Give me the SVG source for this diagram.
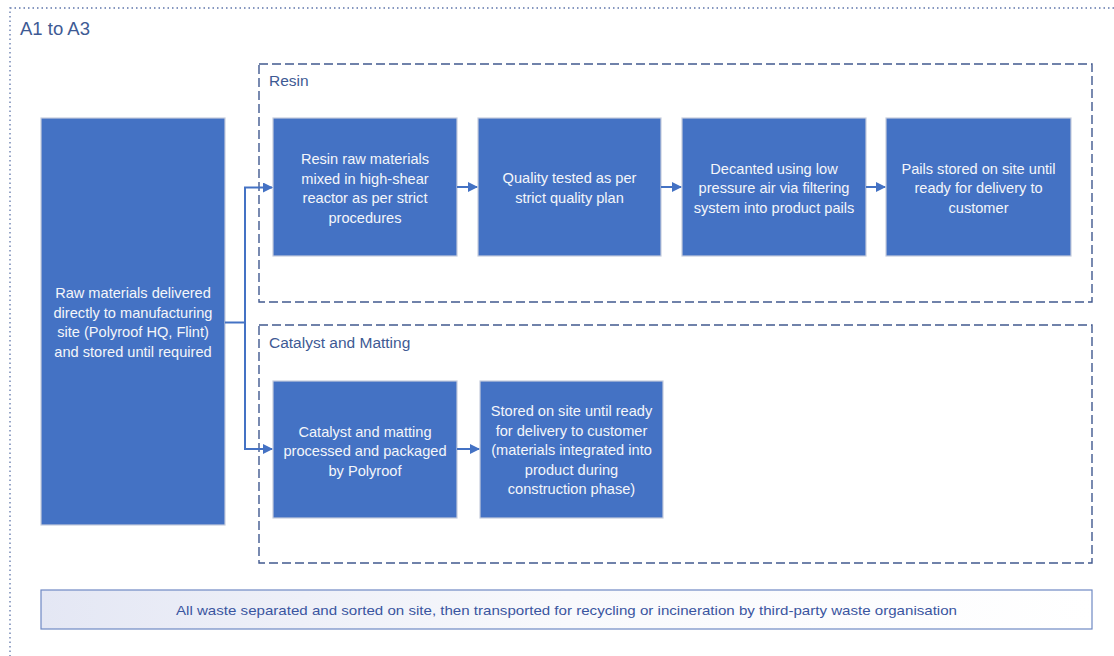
<svg xmlns="http://www.w3.org/2000/svg" width="1114" height="656" viewBox="0 0 1114 656">
<style>
.box{fill:#4472C4;stroke:#C5CCDC;stroke-width:1.2}
.bt{font-family:"Liberation Sans",Arial,sans-serif;font-size:14.6px;fill:#F4F6FA;text-anchor:middle}
.grp{fill:none;stroke:#41598F;stroke-width:1.4;stroke-dasharray:9 4}
.gt{font-family:"Liberation Sans",Arial,sans-serif;font-size:15.5px;fill:#3E5A94}
.con{fill:none;stroke:#4472C4;stroke-width:2}
</style>
<defs>
<marker id="ah" viewBox="0 0 10 10" refX="9" refY="5" markerWidth="10" markerHeight="10" markerUnits="userSpaceOnUse" orient="auto">
<path d="M0,0 L10,5 L0,10 Z" fill="#4472C4"/>
</marker>
<linearGradient id="wg" x1="0" y1="0" x2="1" y2="0">
<stop offset="0" stop-color="#E4E7F4"/>
<stop offset="0.5" stop-color="#F8F9FC"/>
<stop offset="1" stop-color="#FFFFFF"/>
</linearGradient>
</defs>
<rect width="1114" height="656" fill="#FFFFFF"/>
<g id="outer">
<rect x="10" y="8" width="1120" height="660" fill="none" stroke="#5F76AA" stroke-width="1.3" stroke-dasharray="1.5 3"/>
<text x="20" y="35" font-family="Liberation Sans,Arial,sans-serif" font-size="18.5" fill="#3E5A94">A1 to A3</text>
</g>
<g id="resin-group">
<rect class="grp" x="259" y="64" width="833" height="238"/>
<text class="gt" x="269" y="86">Resin</text>
</g>
<g id="catalyst-group">
<rect class="grp" x="259" y="325" width="833" height="238"/>
<text class="gt" x="269" y="348">Catalyst and Matting</text>
</g>
<g id="raw">
<rect class="box" x="41" y="118" width="184" height="407"/>
<text class="bt"><tspan x="133" y="298">Raw materials delivered</tspan><tspan x="133" y="317.5">directly to manufacturing</tspan><tspan x="133" y="337">site (Polyroof HQ, Flint)</tspan><tspan x="133" y="356.5">and stored until required</tspan></text>
</g>
<g id="r1">
<rect class="box" x="273" y="118" width="184" height="138"/>
<text class="bt"><tspan x="365" y="164">Resin raw materials</tspan><tspan x="365" y="183.5">mixed in high-shear</tspan><tspan x="365" y="203">reactor as per strict</tspan><tspan x="365" y="222.5">procedures</tspan></text>
</g>
<g id="r2">
<rect class="box" x="478" y="118" width="183" height="138"/>
<text class="bt"><tspan x="569.5" y="183">Quality tested as per</tspan><tspan x="569.5" y="202.5">strict quality plan</tspan></text>
</g>
<g id="r3">
<rect class="box" x="682" y="118" width="184" height="138"/>
<text class="bt"><tspan x="774" y="173.5">Decanted using low</tspan><tspan x="774" y="193">pressure air via filtering</tspan><tspan x="774" y="212.5">system into product pails</tspan></text>
</g>
<g id="r4">
<rect class="box" x="886" y="118" width="185" height="138"/>
<text class="bt"><tspan x="978.5" y="173.5">Pails stored on site until</tspan><tspan x="978.5" y="193">ready for delivery to</tspan><tspan x="978.5" y="212.5">customer</tspan></text>
</g>
<g id="c1">
<rect class="box" x="273" y="381" width="184" height="137"/>
<text class="bt"><tspan x="365" y="436.5">Catalyst and matting</tspan><tspan x="365" y="456">processed and packaged</tspan><tspan x="365" y="475.5">by Polyroof</tspan></text>
</g>
<g id="c2">
<rect class="box" x="480" y="381" width="183" height="137"/>
<text class="bt"><tspan x="571.5" y="416">Stored on site until ready</tspan><tspan x="571.5" y="435.5">for delivery to customer</tspan><tspan x="571.5" y="455">(materials integrated into</tspan><tspan x="571.5" y="474.5">product during</tspan><tspan x="571.5" y="494">construction phase)</tspan></text>
</g>
<g id="waste">
<rect x="41" y="590" width="1051" height="39" fill="url(#wg)" stroke="#6F89C4" stroke-width="1.2"/>
<text x="566.5" y="614.5" font-family="Liberation Sans,Arial,sans-serif" font-size="13.5" fill="#3A55A0" text-anchor="middle" textLength="781" lengthAdjust="spacingAndGlyphs">All waste separated and sorted on site, then transported for recycling or incineration by third-party waste organisation</text>
</g>
<g id="connectors">
<path class="con" d="M225,322.5 H245"/>
<path class="con" d="M245,187.5 V449"/>
<path class="con" d="M244,187.5 H272" marker-end="url(#ah)"/>
<path class="con" d="M244,449 H272" marker-end="url(#ah)"/>
<path class="con" d="M457,187 H477" marker-end="url(#ah)"/>
<path class="con" d="M661,187 H681" marker-end="url(#ah)"/>
<path class="con" d="M866,187 H885" marker-end="url(#ah)"/>
<path class="con" d="M457,449 H479" marker-end="url(#ah)"/>
</g>
</svg>
